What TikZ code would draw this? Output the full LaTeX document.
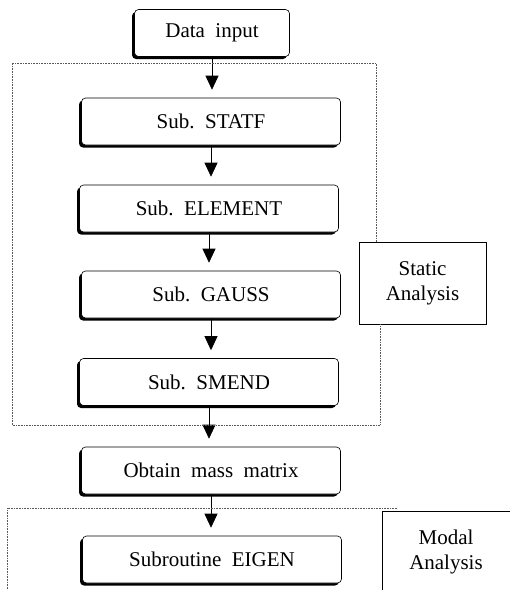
\documentclass[tikz,border=0pt]{standalone}
\usepackage{fontspec}
\setmainfont{Liberation Serif}
\usetikzlibrary{arrows.meta,shadows}
\begin{document}
\begin{tikzpicture}[x=1pt,y=-1pt]
  \tikzstyle{proc}=[draw,line width=0.6pt,rounded corners=4pt,fill=white,minimum width=259pt,minimum height=47pt,inner sep=0pt,drop shadow={shadow xshift=-2.5pt,shadow yshift=-2.5pt,opacity=1,fill=black},font=\fontsize{21}{25}\selectfont]
  \tikzstyle{flow}=[line width=0.6pt,-{Triangle[width=13pt,length=14pt]},shorten >=8pt]
  \tikzstyle{frame}=[densely dotted,gray!70!black,line width=0.6pt]
  \tikzstyle{label}=[draw,line width=0.6pt,align=center,font=\fontsize{21}{25}\selectfont]
  \useasboundingbox (0,0) rectangle (510,590);

  \node[proc,minimum width=155pt] (input) at (212,33) {Data\ \ input};

  \node[proc] (statf) at (211,121.5) {Sub.\ \ STATF};
  \draw[flow] (input) -- (input |- statf.north);

  \node[proc] (element) at (209,208.5) {Sub.\ \ ELEMENT};
  \draw[flow] (statf) -- (statf |- element.north);

  \node[proc] (gauss) at (211,294.5) {Sub.\ \ GAUSS};
  \draw[flow] (element) -- (element |- gauss.north);

  \node[proc] (smend) at (209,382) {Sub.\ \ SMEND};
  \draw[flow] (gauss) -- (gauss |- smend.north);

  \node[proc] (mass) at (211,470.5) {Obtain\ \ mass\ \ matrix};
  \draw[flow] (smend) -- (smend |- mass.north);

  \node[proc] (eigen) at (212,559.5) {Subroutine\ \ EIGEN};
  \draw[flow] (mass) -- (mass |- eigen.north);

  \node[label,minimum width=127pt,minimum height=82pt] (static) at (422.5,283) {Static\\Analysis};
  \draw[frame] (static.north -| 376,0) -- (376,63) -- (12,63) -- (12,425) -- (380,425) -- (static.south -| 380,0);

  \draw[line width=0.6pt] (512,511) -- (382,511) -- (382,592);
  \node[align=center,font=\fontsize{21}{25}\selectfont] (modal) at (446,552) {Modal\\Analysis};
  \draw[frame] (397,508) -- (7,508) -- (7,592);
\end{tikzpicture}
\end{document}
